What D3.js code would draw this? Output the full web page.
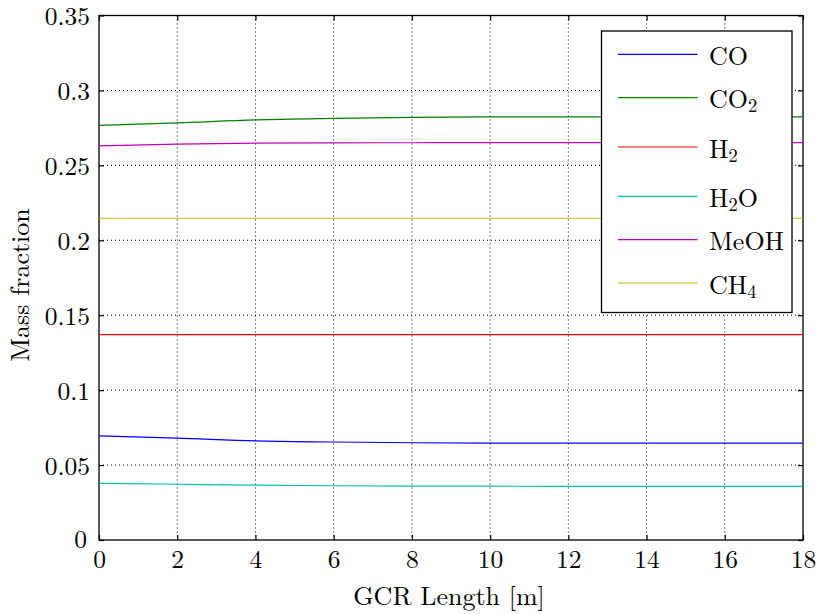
<!DOCTYPE html>
<html><head><meta charset="utf-8">
<script src="https://cdn.jsdelivr.net/npm/d3@7"></script>
<style>body{margin:0;background:#fff}</style>
</head><body><svg id="c" width="817" height="614"></svg>
<script>
const xValues = [0, 2, 4, 6, 8, 10, 12, 14, 16, 18];
const CO   = [0.0695, 0.0680, 0.0661, 0.0654, 0.0649, 0.0647, 0.0647, 0.0646, 0.0646, 0.0646];
const CO2  = [0.2767, 0.2783, 0.2803, 0.2813, 0.2820, 0.2823, 0.2824, 0.2824, 0.2824, 0.2824];
const H2   = [0.1370, 0.1370, 0.1370, 0.1370, 0.1370, 0.1370, 0.1370, 0.1370, 0.1370, 0.1370];
const H2O  = [0.0378, 0.0372, 0.0366, 0.0362, 0.0360, 0.0359, 0.0358, 0.0358, 0.0358, 0.0358];
const MeOH = [0.2630, 0.2642, 0.2648, 0.2650, 0.2651, 0.2652, 0.2652, 0.2652, 0.2652, 0.2652];
const CH4  = [0.2147, 0.2147, 0.2147, 0.2147, 0.2147, 0.2147, 0.2147, 0.2147, 0.2147, 0.2147];
const xTicks = [0, 2, 4, 6, 8, 10, 12, 14, 16, 18];
const yTicks = [0, 0.05, 0.1, 0.15, 0.2, 0.25, 0.3, 0.35];
const yTickLabels = ["0", "0.05", "0.1", "0.15", "0.2", "0.25", "0.3", "0.35"];
const legendLabels = [["CO", ""], ["CO", "2"], ["H", "2"], ["H", "2", "O"], ["MeOH", ""], ["CH", "4"]];
const colors = ["#0000ff", "#008000", "#ff0000", "#00bfbf", "#bf00bf", "#bfbf00"];

const data = [CO, CO2, H2, H2O, MeOH, CH4];
const FONT = '"Latin Modern Roman","Liberation Serif",serif';
const svg = d3.select("#c");
const L = 99, R = 803, T = 15.5, B = 540;
const x = d3.scaleLinear().domain([0, 18]).range([L, R]);
const y = d3.scaleLinear().domain([0, 0.35]).range([B, T]);
const FS = 25.5, FT = 26;

// grid
const g = svg.append("g");
g.selectAll(".gx").data(xTicks.slice(1, -1)).enter().append("line")
  .attr("x1", d => x(d)).attr("x2", d => x(d)).attr("y1", T).attr("y2", B)
  .attr("stroke", "#000").attr("stroke-width", 1).attr("stroke-dasharray", "1,3");
g.selectAll(".gy").data(yTicks.slice(1, -1)).enter().append("line")
  .attr("y1", d => y(d)).attr("y2", d => y(d)).attr("x1", L).attr("x2", R)
  .attr("stroke", "#000").attr("stroke-width", 1).attr("stroke-dasharray", "1,3");

// axes with inner ticks
const fmtY = d => yTickLabels[yTicks.indexOf(d)];
const axL = svg.append("g").attr("transform", `translate(${L},0)`)
  .call(d3.axisLeft(y).tickValues(yTicks).tickFormat(fmtY).tickSizeInner(-5).tickSizeOuter(0).tickPadding(9));
const axR = svg.append("g").attr("transform", `translate(${R},0)`)
  .call(d3.axisRight(y).tickValues(yTicks).tickFormat("").tickSizeInner(-5).tickSizeOuter(0));
const axB = svg.append("g").attr("transform", `translate(0,${B})`)
  .call(d3.axisBottom(x).tickValues(xTicks).tickFormat(d3.format("d")).tickSizeInner(-5).tickSizeOuter(0).tickPadding(8));
const axT = svg.append("g").attr("transform", `translate(0,${T})`)
  .call(d3.axisTop(x).tickValues(xTicks).tickFormat("").tickSizeInner(-5).tickSizeOuter(0));
[axL, axR, axB, axT].forEach(a => {
  a.attr("font-family", null).attr("font-size", null);
  a.select(".domain").remove();
  a.selectAll("line").attr("stroke", "#000").attr("stroke-width", 1.2);
  a.selectAll("text").style("font-family", FONT).style("font-size", FS + "px").attr("fill", "#000");
});
axL.selectAll("text").attr("dy", "0.37em");
axB.selectAll("text").attr("dy", "0.78em");
axL.selectAll(".tick").filter(d => d === 0).select("text").attr("dx", "-3").attr("dy", "0.3em");

// frame
svg.append("rect").attr("x", L).attr("y", T).attr("width", R - L).attr("height", B - T)
  .attr("fill", "none").attr("stroke", "#000").attr("stroke-width", 1.3);

// lines
const line = d3.line().x((d, i) => x(xValues[i])).y(d => y(d)).curve(d3.curveMonotoneX);
data.forEach((s, k) => {
  svg.append("path").datum(s).attr("d", line).attr("fill", "none")
    .attr("stroke", colors[k]).attr("stroke-width", 1.2);
});

// legend
const lg = svg.append("g");
lg.append("rect").attr("x", 601.5).attr("y", 31).attr("width", 190.5).attr("height", 281.5)
  .attr("fill", "#fff").attr("stroke", "#000").attr("stroke-width", 1.3);
const rowY = [54.3, 97.7, 147, 196.3, 239.7, 283];
legendLabels.forEach((lab, k) => {
  const yy = rowY[k];
  lg.append("line").attr("x1", 618).attr("x2", 697.5).attr("y1", yy).attr("y2", yy)
    .attr("stroke", colors[k]).attr("stroke-width", 1.2);
  const t = lg.append("text").attr("x", 709).attr("y", yy + 10.5)
    .style("font-family", FONT).style("font-size", FT + "px").attr("fill", "#000");
  t.append("tspan").text(lab[0]);
  if (lab[1]) t.append("tspan").attr("dy", 4).style("font-size", "18.5px").text(lab[1]);
  if (lab[2]) t.append("tspan").attr("dy", -4).text(lab[2]);
});

// titles
svg.append("text").attr("x", 449).attr("y", 604.5).attr("text-anchor", "middle")
  .style("font-family", FONT).style("font-size", FT + "px").attr("fill", "#000").text("GCR Length [m]");
svg.append("text").attr("transform", `translate(28.5,285) rotate(-90)`).attr("text-anchor", "middle")
  .style("font-family", FONT).style("font-size", FT + "px").attr("fill", "#000").text("Mass fraction");
</script></body></html>
